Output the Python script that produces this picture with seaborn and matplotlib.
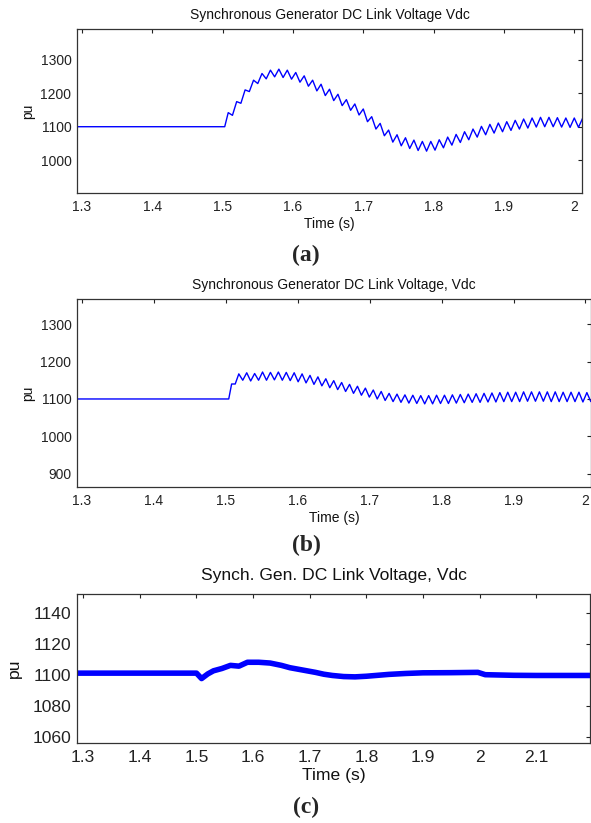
import numpy as np
import matplotlib
matplotlib.use("Agg")
import matplotlib.pyplot as plt
import seaborn as sns

# (a) Synchronous Generator DC Link Voltage Vdc -- flat part then ripple vertices
time_a = [1.29, 1.503, 1.508, 1.514, 1.520, 1.526, 1.532, 1.538, 1.544, 1.550,
          1.556, 1.562, 1.568, 1.574, 1.580, 1.586, 1.592, 1.598, 1.604, 1.610,
          1.616, 1.622, 1.628, 1.634, 1.640, 1.646, 1.652, 1.658, 1.664, 1.670,
          1.676, 1.682, 1.688, 1.694, 1.700, 1.706, 1.712, 1.718, 1.724, 1.730,
          1.736, 1.742, 1.748, 1.754, 1.760, 1.766, 1.772, 1.778, 1.784, 1.790,
          1.796, 1.802, 1.808, 1.814, 1.820, 1.826, 1.832, 1.838, 1.844, 1.850,
          1.856, 1.862, 1.868, 1.874, 1.880, 1.886, 1.892, 1.898, 1.904, 1.910,
          1.916, 1.922, 1.928, 1.934, 1.940, 1.946, 1.952, 1.958, 1.964, 1.970,
          1.976, 1.982, 1.988, 1.994, 2.000, 2.006, 2.012]
vdc_a = [1100, 1100, 1142, 1134, 1175, 1170, 1210, 1205, 1239, 1229,
         1259, 1243, 1269, 1249, 1272, 1247, 1269, 1242, 1262, 1233,
         1252, 1221, 1239, 1207, 1227, 1193, 1212, 1178, 1197, 1163,
         1181, 1149, 1168, 1135, 1153, 1115, 1130, 1093, 1110, 1073,
         1090, 1054, 1076, 1043, 1067, 1035, 1060, 1029, 1056, 1027,
         1056, 1030, 1061, 1037, 1069, 1045, 1077, 1053, 1085, 1061,
         1093, 1069, 1101, 1076, 1107, 1081, 1111, 1085, 1115, 1089,
         1119, 1093, 1123, 1096, 1126, 1099, 1128, 1100, 1128, 1100,
         1127, 1099, 1126, 1098, 1126, 1098, 1126]

# (b) Synchronous Generator DC Link Voltage, Vdc
time_b = [1.29, 1.504, 1.508, 1.513,
          1.5180, 1.5235, 1.5290, 1.5345, 1.5400, 1.5455, 1.5510, 1.5565, 1.5620, 1.5675,
          1.5730, 1.5785, 1.5840, 1.5895, 1.5950, 1.6005, 1.6060, 1.6115, 1.6170, 1.6225,
          1.6280, 1.6335, 1.6390, 1.6445, 1.6500, 1.6555, 1.6610, 1.6665, 1.6720, 1.6775,
          1.6830, 1.6885, 1.6940, 1.6995, 1.7050, 1.7105, 1.7160, 1.7215, 1.7270, 1.7325,
          1.7380, 1.7435, 1.7490, 1.7545, 1.7600, 1.7655, 1.7710, 1.7765, 1.7820, 1.7875,
          1.7930, 1.7985, 1.8040, 1.8095, 1.8150, 1.8205, 1.8260, 1.8315, 1.8370, 1.8425,
          1.8480, 1.8535, 1.8590, 1.8645, 1.8700, 1.8755, 1.8810, 1.8865, 1.8920, 1.8975,
          1.9030, 1.9085, 1.9140, 1.9195, 1.9250, 1.9305, 1.9360, 1.9415, 1.9470, 1.9525,
          1.9580, 1.9635, 1.9690, 1.9745, 1.9800, 1.9855, 1.9910, 1.9965, 2.0020, 2.0075]
vdc_b = [1100, 1100, 1140, 1140,
         1167, 1150, 1170, 1148, 1168, 1150, 1172, 1150, 1171, 1151,
         1172, 1150, 1171, 1149, 1170, 1146, 1167, 1143, 1163, 1139,
         1159, 1135, 1154, 1130, 1149, 1125, 1144, 1120, 1139, 1115,
         1134, 1110, 1129, 1105, 1124, 1100, 1120, 1096, 1115, 1093,
         1113, 1091, 1111, 1089, 1110, 1088, 1109, 1087, 1109, 1087,
         1110, 1088, 1110, 1088, 1111, 1089, 1112, 1090, 1113, 1091,
         1114, 1091, 1115, 1092, 1116, 1092, 1117, 1093, 1118, 1093,
         1118, 1093, 1119, 1094, 1119, 1094, 1119, 1094, 1119, 1093,
         1119, 1093, 1118, 1093, 1118, 1093, 1118, 1092, 1117, 1093]

# (c) Synch. Gen. DC Link Voltage, Vdc
time_c = [1.28, 1.50, 1.509, 1.52, 1.53, 1.545, 1.56, 1.575, 1.59, 1.61,
          1.63, 1.65, 1.665, 1.68, 1.695, 1.71, 1.725, 1.74, 1.76, 1.78,
          1.80, 1.82, 1.84, 1.87, 1.90, 1.95, 1.997, 2.01, 2.06, 2.10,
          2.15, 2.20]
vdc_c = [1101, 1101, 1097.5, 1100.5, 1102.5, 1104, 1106, 1105.5, 1108, 1108,
         1107.5, 1106, 1104.5, 1103.5, 1102.5, 1101.5, 1100.3, 1099.5, 1098.8, 1098.6,
         1099, 1099.6, 1100.2, 1100.8, 1101.2, 1101.3, 1101.5, 1100, 1099.6, 1099.5,
         1099.5, 1099.5]

xticks_ab = [1.3, 1.4, 1.5, 1.6, 1.7, 1.8, 1.9, 2.0]
xlabels_ab = ["1.3", "1.4", "1.5", "1.6", "1.7", "1.8", "1.9", "2"]
xticks_c = [1.3, 1.4, 1.5, 1.6, 1.7, 1.8, 1.9, 2.0, 2.1]
xlabels_c = ["1.3", "1.4", "1.5", "1.6", "1.7", "1.8", "1.9", "2", "2.1"]
yticks_a = [1000, 1100, 1200, 1300]
yticks_b = [900, 1000, 1100, 1200, 1300]
yticks_c = [1060, 1080, 1100, 1120, 1140]

sns.set_style("white")
plt.rcParams["font.family"] = ["Liberation Sans", "DejaVu Sans"]

fig = plt.figure(figsize=(5.91, 8.23), dpi=100)

ax_a = fig.add_axes([0.1303, 0.7655, 0.8545, 0.1993])
ax_b = fig.add_axes([0.1303, 0.4083, 0.8700, 0.2284])
ax_c = fig.add_axes([0.1303, 0.0972, 0.8680, 0.1811])

sns.lineplot(x=time_a, y=vdc_a, ax=ax_a, color="#0000ff", lw=1.0,
             estimator=None, sort=False)
sns.lineplot(x=time_b, y=vdc_b, ax=ax_b, color="#0000ff", lw=1.0,
             estimator=None, sort=False)
sns.lineplot(x=time_c, y=vdc_c, ax=ax_c, color="#0000ff", lw=4.0,
             estimator=None, sort=False)


def style(ax, xticks, xlabels, yticks, xlim, ylim, title, fs, tpad, ylab_x):
    ax.set_xlim(*xlim)
    ax.set_ylim(*ylim)
    ax.set_xticks(xticks)
    ax.set_xticklabels(xlabels)
    ax.set_yticks(yticks)
    ax.tick_params(direction="in", length=3, width=0.8, top=True, right=True,
                   labelsize=fs, colors="#222222", pad=4)
    ax.tick_params(axis="x", pad=5)
    for s in ax.spines.values():
        s.set_color("#333333")
        s.set_linewidth(0.9)
        s.set_visible(True)
    ax.set_title(title, fontsize=fs, pad=tpad, color="#111111")
    ax.set_xlabel("Time (s)", fontsize=fs, labelpad=2, color="#111111")
    ax.set_ylabel("pu", fontsize=fs, color="#111111")
    ax.yaxis.set_label_coords(ylab_x, 0.5)


style(ax_a, xticks_ab, xlabels_ab, yticks_a, (1.293, 2.011), (902, 1392),
      "Synchronous Generator DC Link Voltage Vdc", 10, 7, -0.083)
style(ax_b, xticks_ab, xlabels_ab, yticks_b, (1.293, 2.008), (865, 1367),
      "Synchronous Generator DC Link Voltage, Vdc", 10, 7, -0.082)
style(ax_c, xticks_c, xlabels_c, yticks_c, (1.289, 2.195), (1056, 1152),
      "Synch. Gen. DC Link Voltage, Vdc", 12.6, 10, -0.107)

for lab, ypix in [("(a)", 255), ("(b)", 545), ("(c)", 807)]:
    fig.text(306 / 591, 1 - ypix / 823, lab, ha="center", va="center",
             fontsize=17, fontweight="bold", family=["Liberation Serif", "DejaVu Serif"])

fig.savefig("out.png", dpi=100)
